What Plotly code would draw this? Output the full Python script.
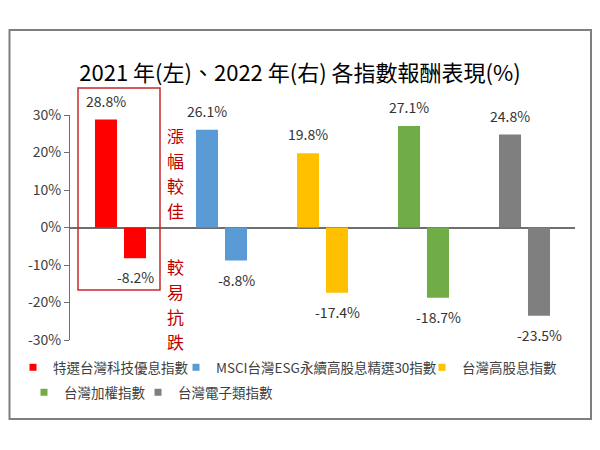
import plotly.graph_objects as go

categories = ["特選台灣科技優息指數", "MSCI台灣ESG永續高股息精選30指數", "台灣高股息指數", "台灣加權指數", "台灣電子類指數"]
ret_2021 = [28.8, 26.1, 19.8, 27.1, 24.8]
ret_2022 = [-8.2, -8.8, -17.4, -18.7, -23.5]
colors = ["#FF0000", "#5B9BD5", "#FFC000", "#70AD47", "#7F7F7F"]
y_ticks = [-30, -20, -10, 0, 10, 20, 30]
y_ticktext = [f"{v}%" for v in y_ticks]
note_up = "漲幅較佳"
note_down = "較易抗跌"
title_text = "2021 年(左)、2022 年(右) 各指數報酬表現(%)"

FONT = "Noto Sans CJK TC, Noto Sans, sans-serif"

# page offset of the figure inside the browser page (body margin)
OFF = 8
# plot area in screen pixels
SL, SR, ST, SB = 70, 575, 115, 340


def px_x(p):
    return (p - SL) / (SR - SL)


def px_y(p):
    return (SB - p) / (SB - ST)


fig = go.Figure()
fig.add_bar(x=categories, y=ret_2021, marker=dict(color=colors, line=dict(width=0)),
            showlegend=False, name="2021")
fig.add_bar(x=categories, y=ret_2022, marker=dict(color=colors, line=dict(width=0)),
            showlegend=False, name="2022")

# legend entries: (screen x of text start, screen y of row center)
legend_pos = [(53, 368), (216, 368), (462, 368), (64, 393), (178, 393)]
legend_font = dict(size=13.5, color="#404040", family=FONT)
legend_layout = {}
for i, (c, col, (tx, ty)) in enumerate(zip(categories, colors, legend_pos)):
    key = "legend" if i == 0 else f"legend{i + 1}"
    fig.add_scatter(x=[None], y=[None], mode="markers",
                    marker=dict(symbol="square", size=7, color=col), name=c,
                    legend=key)
    legend_layout[key] = dict(orientation="h", x=px_x(tx - 40), y=px_y(ty - 16),
                              xanchor="left", yanchor="top", font=legend_font,
                              itemwidth=30, bgcolor="rgba(0,0,0,0)")

for c, v in zip(categories, ret_2021):
    fig.add_annotation(x=c, y=v, text=f"{v:.1f}%", xshift=-14.5, yshift=19,
                       xanchor="center", yanchor="middle", showarrow=False,
                       font=dict(size=14, color="#333333", family=FONT))
for c, v in zip(categories, ret_2022):
    fig.add_annotation(x=c, y=v, text=f"{v:.1f}%", xshift=14.5, yshift=-19,
                       xanchor="center", yanchor="middle", showarrow=False,
                       font=dict(size=14, color="#333333", family=FONT))

note_color = "#C00000"
for i, ch in enumerate(note_up):
    fig.add_annotation(xref="paper", yref="paper", x=px_x(175), y=px_y(135 + 25 * i),
                       xanchor="center", yanchor="middle", text=ch, showarrow=False,
                       font=dict(size=17, color=note_color, family=FONT))
for i, ch in enumerate(note_down):
    fig.add_annotation(xref="paper", yref="paper", x=px_x(175), y=px_y(266 + 25 * i),
                       xanchor="center", yanchor="middle", text=ch, showarrow=False,
                       font=dict(size=17, color=note_color, family=FONT))

# outer border
fig.add_shape(type="rect", xref="paper", yref="paper",
              x0=px_x(9.5), x1=px_x(591), y0=px_y(419), y1=px_y(30),
              line=dict(color="#7F7F7F", width=2), layer="below")
# red highlight box
fig.add_shape(type="rect", xref="paper", yref="paper",
              x0=px_x(78), x1=px_x(160), y0=px_y(290), y1=px_y(88),
              line=dict(color="#C8282D", width=1.5))

fig.update_layout(
    width=600, height=450,
    margin=dict(l=SL - OFF, r=600 - (SR - OFF), t=ST - OFF, b=450 - (SB - OFF),
                autoexpand=False),
    paper_bgcolor="white", plot_bgcolor="white",
    barmode="group", bargap=0.426, bargroupgap=0.24,
    title=dict(text=title_text, x=(300 - OFF) / 600, xanchor="center", xref="container",
               y=1 - (73 - OFF) / 450, yanchor="middle",
               font=dict(size=22, color="#000000", family=FONT)),
    font=dict(family=FONT, color="#404040"),
    xaxis=dict(visible=False, range=[-0.5, 4.5]),
    yaxis=dict(range=[-30, 30], tickvals=y_ticks, ticktext=y_ticktext,
               showgrid=False, zeroline=True, zerolinecolor="#6E6E6E", zerolinewidth=1.5,
               showline=True, linecolor="#6E6E6E", linewidth=1,
               ticks="outside", ticklen=5, tickcolor="#6E6E6E",
               tickfont=dict(size=14, color="#404040", family=FONT)),
    **legend_layout,
)

fig.write_html("out.html")
